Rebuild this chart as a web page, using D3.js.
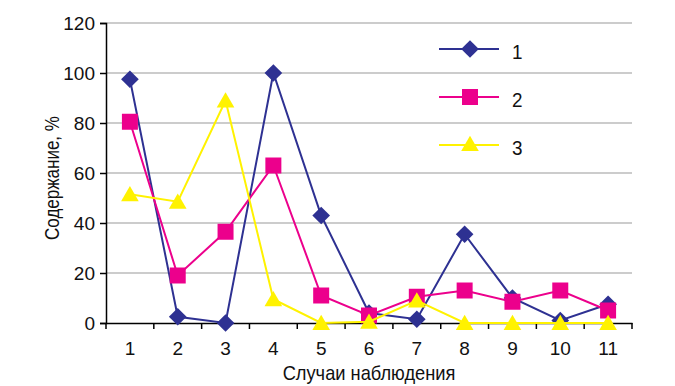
<!DOCTYPE html>
<html>
<head>
<meta charset="utf-8">
<script src="https://cdn.jsdelivr.net/npm/d3@7"></script>
<style>
  body { margin: 0; background: #fff; }
  text { font-family: "Liberation Sans", Arial, sans-serif; fill: #111; }
</style>
</head>
<body>
<svg width="675" height="386"></svg>
<script>
var cases = ["1", "2", "3", "4", "5", "6", "7", "8", "9", "10", "11"];
var series1 = [97.5, 2.5, 0, 100, 43, 4, 1.5, 35.5, 10, 1, 7.5];
var series2 = [80.5, 19, 36.5, 63, 11, 3, 10.5, 13, 8.5, 13, 5];
var series3 = [51.5, 48.5, 89, 9.5, 0, 0.5, 9, 0, 0, 0, 0];
var seriesNames = ["1", "2", "3"];
var yTicks = [0, 20, 40, 60, 80, 100, 120];

var svg = d3.select("svg"),
    margin = {top: 23, right: 43, bottom: 63, left: 106},
    width = +svg.attr("width") - margin.left - margin.right,
    height = +svg.attr("height") - margin.top - margin.bottom;

var x = d3.scaleBand().domain(cases).range([0, width]),
    y = d3.scaleLinear().domain([0, 120]).range([height, 0]);

var g = svg.append("g")
    .attr("transform", "translate(" + margin.left + "," + margin.top + ")");

// grid
g.selectAll(".grid")
    .data(yTicks.slice(1))
    .enter().append("line")
    .attr("x1", 0).attr("x2", width)
    .attr("y1", function(d) { return y(d); })
    .attr("y2", function(d) { return y(d); })
    .attr("stroke", "#999")
    .attr("stroke-width", 1.2);

// y axis
var yAxis = g.append("g")
    .call(d3.axisLeft(y).tickValues(yTicks).tickSize(6).tickPadding(5));
yAxis.select(".domain").attr("stroke", "#000").attr("stroke-width", 1.5);
yAxis.selectAll(".tick line").attr("stroke", "#000").attr("stroke-width", 1.5);
yAxis.selectAll(".tick text")
    .style("font-size", "19px")
    .style("font-family", "Liberation Sans, sans-serif")
    .attr("fill", "#111");

// x axis, ticks between categories
var xAxis = g.append("g")
    .attr("transform", "translate(0," + height + ")")
    .call(d3.axisBottom(x).tickSize(0).tickPadding(19));
xAxis.select(".domain").attr("stroke", "#000").attr("stroke-width", 1.5);
xAxis.selectAll(".tick text")
    .style("font-size", "19px")
    .style("font-family", "Liberation Sans, sans-serif")
    .attr("fill", "#111");
g.append("g").selectAll("line")
    .data(cases.concat(["end"]))
    .enter().append("line")
    .attr("x1", function(d, i) { return i * x.step(); })
    .attr("x2", function(d, i) { return i * x.step(); })
    .attr("y1", height).attr("y2", height + 6)
    .attr("stroke", "#000").attr("stroke-width", 1.5);

// titles (condensed look)
g.append("text")
    .attr("transform", "translate(" + (width / 2) + "," + (height + 57) + ") scale(0.87,1)")
    .attr("text-anchor", "middle")
    .style("font-size", "21px")
    .text("Случаи наблюдения");

g.append("text")
    .attr("transform", "translate(-47," + (height / 2 + 5) + ") rotate(-90) scale(0.85,1)")
    .attr("text-anchor", "middle")
    .style("font-size", "20px")
    .text("Содержание, %");

var colors = ["#2e3192", "#ec008c", "#fff200"];
var symbols = [d3.symbolSquare, d3.symbolSquare, d3.symbolTriangle];
var symSizes = [156, 256, 135];
var all = [series1, series2, series3];

function cx(i) { return x(cases[i]) + x.bandwidth() / 2; }

var line = d3.line()
    .x(function(d, i) { return cx(i); })
    .y(function(d) { return y(d); });

function marker(k) {
    return d3.symbol().type(symbols[k]).size(symSizes[k])();
}

all.forEach(function(vals, k) {
    var sg = g.append("g");
    sg.append("path")
        .datum(vals)
        .attr("d", line)
        .attr("fill", "none")
        .attr("stroke", colors[k])
        .attr("stroke-width", 2);
    sg.selectAll("path.m")
        .data(vals)
        .enter().append("path")
        .attr("class", "m")
        .attr("d", marker(k))
        .attr("transform", function(d, i) {
            var t = "translate(" + cx(i) + "," + (y(d) + (k === 2 ? 2 : 0)) + ")";
            return k === 0 ? t + " rotate(45)" : t;
        })
        .attr("fill", colors[k]);
});

// legend
var legY = [26, 74, 122];
var leg = g.append("g").attr("transform", "translate(333,0)");
seriesNames.forEach(function(name, k) {
    var lg = leg.append("g").attr("transform", "translate(0," + legY[k] + ")");
    lg.append("line")
        .attr("x1", 0).attr("x2", 60)
        .attr("stroke", colors[k]).attr("stroke-width", 2);
    lg.append("path")
        .attr("d", marker(k))
        .attr("transform", "translate(31," + (k === 2 ? 1 : 0) + ")" + (k === 0 ? " rotate(45)" : ""))
        .attr("fill", colors[k]);
    lg.append("text")
        .attr("transform", "translate(73,9.5) scale(0.9,1)")
        .style("font-size", "21px")
        .text(name);
});
</script>
</body>
</html>
